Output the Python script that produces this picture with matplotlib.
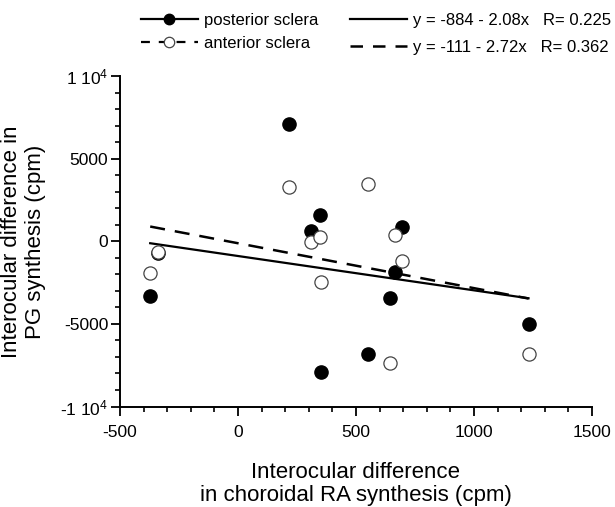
import matplotlib
matplotlib.use('Agg')
import numpy as np
import matplotlib.pyplot as plt
from matplotlib.lines import Line2D
from matplotlib.ticker import MultipleLocator, FixedLocator, FixedFormatter

plt.rcParams['font.family'] = ['Liberation Sans', 'DejaVu Sans']
plt.rcParams['mathtext.fontset'] = 'custom'
plt.rcParams['mathtext.rm'] = 'Liberation Sans'
plt.rcParams['mathtext.default'] = 'regular'
plt.rcParams['axes.unicode_minus'] = False

# interocular difference in choroidal RA synthesis (shared by both series)
ra_diff = [-372, -340, 217, 308, 349, 352, 552, 642, 666, 696, 1231]
# interocular difference in PG synthesis
posterior_pg = [-3300, -700, 7100, 650, 1600, -7900, -6820, -3430, -1880, 850, -4980]
anterior_pg = [-1940, -670, 3300, -60, 240, -2440, 3470, -7380, 380, -1170, -6840]

# regression lines, as printed in the legend
fit_intercept = [-884, -111]
fit_slope = [-2.08, -2.72]
fit_r = [0.225, 0.362]

yticks = [-10000, -5000, 0, 5000, 10000]
ytick_labels = ['-1 10$^4$', '-5000', '0', '5000', '1 10$^4$']
xticks = [-500, 0, 500, 1000, 1500]

fig = plt.figure(figsize=(6.15, 5.07), dpi=100)
ax = fig.add_axes([0.1951, 0.1982, 0.7675, 0.6513])

xr = np.array([min(ra_diff), max(ra_diff)])
ax.plot(xr, fit_intercept[0] + fit_slope[0] * xr, color='black', lw=1.6, zorder=2)
ax.plot(xr, fit_intercept[1] + fit_slope[1] * xr, color='black', lw=1.8,
        dashes=(6, 4), zorder=2)

ax.plot(ra_diff, posterior_pg, 'o', ms=9.5, mfc='black', mec='black', zorder=3)
ax.plot(ra_diff, anterior_pg, 'o', ms=9.5, mfc='white', mec='#444444', mew=0.9, zorder=4)

ax.set_xlim(-500, 1500)
ax.set_ylim(-10000, 10000)
ax.xaxis.set_major_locator(FixedLocator(xticks))
ax.xaxis.set_minor_locator(MultipleLocator(100))
ax.yaxis.set_major_locator(FixedLocator(yticks))
ax.yaxis.set_major_formatter(FixedFormatter(ytick_labels))
ax.yaxis.set_minor_locator(MultipleLocator(1000))

for s in ['top', 'right']:
    ax.spines[s].set_visible(False)
for s in ['left', 'bottom']:
    ax.spines[s].set_linewidth(1.4)

ax.tick_params(which='major', direction='out', length=6.5, width=1.3, labelsize=12.5, pad=2)
ax.tick_params(which='minor', direction='out', length=3.5, width=1.2)
ax.tick_params(axis='x', which='major', pad=6.5)

ax.set_xlabel('Interocular difference\nin choroidal RA synthesis (cpm)', fontsize=16,
              labelpad=16, linespacing=1.15)
ax.set_ylabel('Interocular difference in\nPG synthesis (cpm)', fontsize=16, labelpad=10)

# legends above the plot
h_series = [Line2D([], [], color='black', lw=1.6, marker='o', ms=7.5, mfc='black', mec='black'),
            Line2D([], [], color='black', lw=1.6, dashes=(4, 4), marker='o', ms=7.5,
                   mfc='white', mec='#444444', mew=0.9)]
leg1 = fig.legend(h_series, ['posterior sclera', 'anterior sclera'],
                  loc='upper left', bbox_to_anchor=(141 / 615, 1 - 13 / 507),
                  frameon=False, fontsize=12, handlelength=3.4, handletextpad=0.4,
                  labelspacing=0.47, borderpad=0, borderaxespad=0)

h_fit = [Line2D([], [], color='black', lw=1.6),
         Line2D([], [], color='black', lw=1.8, dashes=(5, 4))]
fit_labels = ['y = %d - %.2fx   R= %.3f' % (fit_intercept[i], -fit_slope[i], fit_r[i])
              for i in range(2)]
leg2 = fig.legend(h_fit, fit_labels,
                  loc='upper left', bbox_to_anchor=(350 / 615, 1 - 13 / 507),
                  frameon=False, fontsize=12, handlelength=3.4, handletextpad=0.4,
                  labelspacing=0.72, borderpad=0, borderaxespad=0)

fig.savefig('out.png', dpi=100)
